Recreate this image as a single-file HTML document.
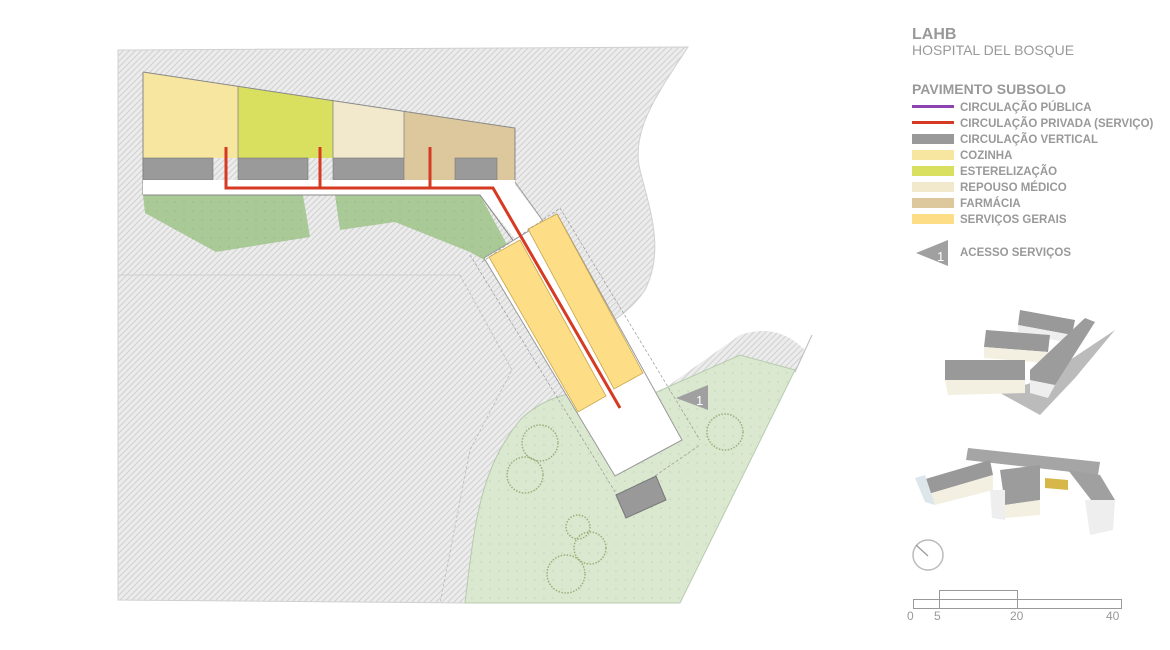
<!DOCTYPE html>
<html><head><meta charset="utf-8"><style>
html,body{margin:0;padding:0;background:#fff;width:1170px;height:650px;overflow:hidden}
svg{display:block}
text{font-family:"Liberation Sans","DejaVu Sans",sans-serif}
</style></head><body>
<svg width="1170" height="650" viewBox="0 0 1170 650" xmlns="http://www.w3.org/2000/svg">
<defs>
<pattern id="h" width="6" height="6" patternUnits="userSpaceOnUse">
<rect width="6" height="6" fill="#ececec"/>
<path d="M0 6L6 0M-1 1L1 -1M5 7L7 5" stroke="#d2d2d2" stroke-width="1.1"/>
</pattern>
<pattern id="d" width="9" height="9" patternUnits="userSpaceOnUse">
<rect width="9" height="9" fill="#d9e8cf"/><circle cx="4" cy="4" r="0.6" fill="#b5c9a8"/>
</pattern>
<pattern id="dg" width="9" height="9" patternUnits="userSpaceOnUse">
<rect width="9" height="9" fill="#a9c996"/><circle cx="4" cy="4" r="0.6" fill="#8fb07c"/>
</pattern>
</defs>

<!-- hatched ground -->
<path d="M118,50 L688,47 C660,90 630,130 640,170 C650,210 665,250 645,290 C635,305 622,315 612,322 L650,395 L600,390 C580,390 545,395 520,420 C480,470 475,520 465,603 L118,600 Z" fill="url(#h)" stroke="#d0d0d0"/>
<path d="M460,275 L512,370 L470,450 L440,603" fill="none" stroke="#bbb" stroke-width="0.8" stroke-dasharray="3,2"/>
<path d="M118,275 L460,275" stroke="#cfcfcf"/>
<!-- hatch strip right -->
<path d="M655,395 L740,335 C770,325 790,335 805,350 L795,372 L740,355 L690,405 Z" fill="url(#h)"/>
<path d="M812,335 L795,372" stroke="#bbb"/>
<!-- light green lawn -->
<path d="M465,603 C475,520 480,470 520,420 C545,395 580,390 600,390 L650,395 L740,355 L795,370 L680,603 Z" fill="url(#d)" stroke="#b8cbb0"/>
<!-- dark green -->
<path d="M143,195 L303,195 L310,237 L216,252 L145,213 Z" fill="url(#dg)"/>
<path d="M335,195 L480,195 L510,250 L495,266 L470,252 L395,222 L340,230 Z" fill="url(#dg)"/>

<!-- top wing -->
<path d="M143,72 L238,86.3 L238,158 L143,158 Z" fill="#f7e6a0"/>
<path d="M238,86.3 L333,100.6 L333,158 L238,158 Z" fill="#d9e060"/>
<path d="M333,100.6 L404,111.3 L404,158 L333,158 Z" fill="#f2e8cc"/>
<path d="M404,111.3 L515,128 L515,180 L404,180 L404,158 Z" fill="#dcc89c"/>
<path d="M143,72 L515,128 L515,180" fill="none" stroke="#888" stroke-width="1"/>
<path d="M238,86 V158 M333,100 V158 M404,111 V158" stroke="#888" stroke-width="0.8"/>
<path d="M143,72 V195" stroke="#888"/>
<rect x="143" y="158" width="70" height="22" fill="#9a9a9a" stroke="#777" stroke-width="0.6"/>
<rect x="238" y="158" width="70" height="22" fill="#9a9a9a" stroke="#777" stroke-width="0.6"/>
<rect x="333" y="158" width="71" height="22" fill="#9a9a9a" stroke="#777" stroke-width="0.6"/>
<rect x="455" y="158" width="42" height="22" fill="#9a9a9a" stroke="#777" stroke-width="0.6"/>
<!-- corridor -->
<path d="M143,180 L515,180 L515,185 L548,228 L520,245 L480,195 L143,195 Z" fill="#fff"/>
<path d="M143,195 L480,195 L520,250" fill="none" stroke="#888"/>
<path d="M515,182 L548,228" fill="none" stroke="#999"/>

<!-- diagonal wing -->
<path d="M484,258 L557,214 L682,440 L615,476 Z" fill="#fff" stroke="#999"/>
<path d="M489,257 L520,240 L606,396 L578,412 Z" fill="#fddd85" stroke="#c9a64a" stroke-width="0.8"/>
<path d="M528,229 L557,214 L643,373 L614,389 Z" fill="#fddd85" stroke="#c9a64a" stroke-width="0.8"/>
<path d="M482,262 L560,208 M470,255 L620,500 L700,445 M560,208 L700,440" fill="none" stroke="#999" stroke-width="0.7" stroke-dasharray="3,2"/>

<!-- red line -->
<path d="M226,147 V188 H493 L620,408 M320,147 V188 M430,147 V188" fill="none" stroke="#d63a22" stroke-width="3"/>

<!-- small gray block -->
<path d="M616,495 L656,476 L666,500 L626,518 Z" fill="#999" stroke="#777"/>

<!-- access arrow -->
<path d="M676,398 L708,385 L708,410 Z" fill="#a0a0a0"/>
<text x="696" y="405" font-size="13" fill="#fff">1</text>

<!-- trees -->
<g fill="none" stroke="#9bb07a" stroke-width="1.5" stroke-dasharray="1.5,1.5">
<circle cx="540" cy="443" r="18"/><circle cx="525" cy="475" r="18"/>
<circle cx="725" cy="432" r="18"/>
<circle cx="578" cy="527" r="12"/><circle cx="590" cy="548" r="16"/><circle cx="566" cy="574" r="19"/>
</g>

<!-- legend -->
<text x="912" y="39" font-size="16" font-weight="bold" fill="#999">LAHB</text>
<text x="912" y="55" font-size="14" fill="#999">HOSPITAL DEL BOSQUE</text>
<text x="912" y="94" font-size="14" font-weight="bold" fill="#999">PAVIMENTO SUBSOLO</text>
<g font-size="11.5" font-weight="bold" fill="#999">
<rect x="912" y="105" width="42" height="3" fill="#8e44b0"/><text x="960" y="111">CIRCULAÇÃO PÚBLICA</text>
<rect x="912" y="121" width="42" height="3" fill="#d63a22"/><text x="960" y="127">CIRCULAÇÃO PRIVADA (SERVIÇO)</text>
<rect x="912" y="134" width="42" height="10" fill="#999"/><text x="960" y="143">CIRCULAÇÃO VERTICAL</text>
<rect x="912" y="150" width="42" height="10" fill="#f7e6a0"/><text x="960" y="159">COZINHA</text>
<rect x="912" y="166" width="42" height="10" fill="#d9e060"/><text x="960" y="175">ESTERELIZAÇÃO</text>
<rect x="912" y="182" width="42" height="10" fill="#f2e8cc"/><text x="960" y="191">REPOUSO MÉDICO</text>
<rect x="912" y="198" width="42" height="10" fill="#dcc89c"/><text x="960" y="207">FARMÁCIA</text>
<rect x="912" y="214" width="42" height="10" fill="#fddd85"/><text x="960" y="223">SERVIÇOS GERAIS</text>
<text x="960" y="256">ACESSO SERVIÇOS</text>
</g>
<path d="M916,253 L948,240 L948,266 Z" fill="#a0a0a0"/>
<text x="937" y="261" font-size="13" fill="#fff">1</text>

<!-- 3D model 1 -->
<g>
<path d="M1000,393 L1040,380 L1115,330 L1075,378 L1040,415 Z" fill="#bbb"/>
<path d="M1020,310 L1075,320 L1072,335 L1018,325 Z" fill="#999"/><path d="M1018,325 L1072,335 L1070,343 L1018,333 Z" fill="#eee"/>
<path d="M986,330 L1050,335 L1048,352 L984,347 Z" fill="#999"/><path d="M984,347 L1048,352 L1046,363 L984,358 Z" fill="#f3f0e2"/>
<path d="M945,360 L1025,360 L1025,380 L945,380 Z" fill="#999"/><path d="M945,380 L1025,380 L1025,393 L948,395 Z" fill="#f3f0e2"/>
<path d="M1030,370 L1085,318 L1095,322 L1055,385 L1030,385 Z" fill="#9c9c9c"/>
<path d="M1030,380 L1055,385 L1048,398 L1030,393 Z" fill="#eee"/>
</g>
<!-- 3D model 2 -->
<g>
<path d="M968,448 L1100,462 L1098,475 L966,460 Z" fill="#a5a5a5"/>
<path d="M922,480 L990,460 L993,475 L925,495 Z" fill="#999"/><path d="M925,495 L993,475 L993,490 L935,505 Z" fill="#f3f0e2"/>
<path d="M915,478 L925,475 L935,505 L925,502 Z" fill="#dde6ea"/>
<path d="M1000,470 L1040,465 L1040,500 L1005,505 Z" fill="#9c9c9c"/><path d="M990,490 L1005,490 L1005,520 L992,518 Z" fill="#eee"/>
<path d="M1005,505 L1040,500 L1040,515 L1005,518 Z" fill="#f3f0e2"/>
<path d="M1068,470 L1100,475 L1115,500 L1095,505 Z" fill="#a0a0a0"/>
<path d="M1085,500 L1115,500 L1113,530 L1090,535 Z" fill="#eee"/>
<path d="M1045,478 L1068,480 L1068,490 L1045,488 Z" fill="#d8b74a"/>
</g>
<!-- compass -->
<circle cx="928" cy="555" r="15" fill="none" stroke="#bbb" stroke-width="1.5"/>
<path d="M916,545 L928,556" stroke="#999" stroke-width="1.2"/>
<!-- scale bar -->
<g fill="none" stroke="#999">
<rect x="913.5" y="599.5" width="208" height="9"/>
<path d="M939.5,608.5 V590.5 H1017.5 V608.5"/>
</g>
<g font-size="12" fill="#999">
<text x="907" y="620">0</text><text x="934" y="620">5</text><text x="1010" y="620">20</text><text x="1106" y="620">40</text>
</g>
</svg>
</body></html>
